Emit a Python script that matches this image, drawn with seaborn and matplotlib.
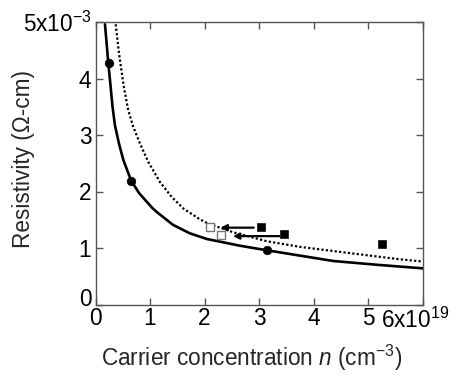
import matplotlib
matplotlib.use("Agg")
import matplotlib.pyplot as plt
import matplotlib.transforms as mtransforms
import seaborn as sns
import pandas as pd

# ---- data ----
fit_solid_n = [0.174, 0.235, 0.278, 0.31, 0.339, 0.357, 0.43, 0.51, 0.65, 0.80, 1.05, 1.12, 1.42,
               1.73, 2.04, 2.65, 3.14, 4.36, 5.20, 6.0]
fit_solid_rho = [4.96, 4.27, 3.85, 3.52, 3.30, 3.17, 2.85, 2.56, 2.20, 1.97, 1.70, 1.64, 1.41,
                 1.26, 1.16, 1.04, 0.96, 0.77, 0.70, 0.64]

fit_dot_n = [0.37, 0.43, 0.52, 0.60, 0.69, 0.815, 0.97, 1.18, 1.40, 1.61, 1.91, 2.07, 2.52,
             3.14, 3.75, 4.66, 5.58, 6.0]
fit_dot_rho = [4.96, 4.45, 3.85, 3.44, 3.15, 2.85, 2.52, 2.17, 1.90, 1.70, 1.51, 1.43, 1.28,
               1.12, 1.02, 0.91, 0.80, 0.76]

circ_n = [0.24, 0.65, 3.14]
circ_rho = [4.27, 2.19, 0.96]

filled_sq_n = [3.04, 3.46, 5.25]
filled_sq_rho = [1.38, 1.24, 1.07]

open_sq_n = [2.10, 2.31]
open_sq_rho = [1.37, 1.23]

arrow_tail_n = [2.90, 3.37]
arrow_head_n = [2.29, 2.52]
arrow_rho = [1.36, 1.21]

x_ticks = [0, 1, 2, 3, 4, 5, 6]
x_ticklabels = ["0", "1", "2", "3", "4", "5", "6x10$^{19}$"]
y_ticks = [0, 1, 2, 3, 4, 5]
y_ticklabels = ["0", "1", "2", "3", "4", "5x10$^{-3}$"]

# ---- style ----
sns.set_style("ticks")
plt.rcParams["font.family"] = ["Liberation Sans", "DejaVu Sans"]
plt.rcParams["mathtext.fontset"] = "custom"
plt.rcParams["mathtext.rm"] = "Liberation Sans"
plt.rcParams["mathtext.it"] = "Liberation Sans:italic"
plt.rcParams["mathtext.default"] = "regular"

FS = 16.3

fig = plt.figure(figsize=(4.61, 3.80), dpi=100)
ax = fig.add_axes([95.5 / 461, 1 - 304.5 / 380, 327.2 / 461, 282.5 / 380])

df_s = pd.DataFrame({"n": fit_solid_n, "rho": fit_solid_rho})
df_d = pd.DataFrame({"n": fit_dot_n, "rho": fit_dot_rho})
sns.lineplot(data=df_s, x="n", y="rho", ax=ax, color="black", lw=1.9, sort=True, zorder=2)
sns.lineplot(data=df_d, x="n", y="rho", ax=ax, color="black", lw=1.6, ls=(0, (1, 1)), sort=True, zorder=2)

sns.scatterplot(x=circ_n, y=circ_rho, ax=ax, marker="o", s=38, color="black", edgecolor="black", zorder=4)
sns.scatterplot(x=filled_sq_n, y=filled_sq_rho, ax=ax, marker="s", s=32, color="black", edgecolor="black", zorder=4)
sns.scatterplot(x=open_sq_n, y=open_sq_rho, ax=ax, marker="s", s=32, facecolor="white", edgecolor="#777777", linewidth=1.0, zorder=4)

for t, h, r in zip(arrow_tail_n, arrow_head_n, arrow_rho):
    ax.annotate("", xy=(h, r), xytext=(t, r),
                arrowprops=dict(arrowstyle="-|>", color="black", lw=1.6,
                                mutation_scale=9, shrinkA=0, shrinkB=0), zorder=3)

ax.set_xlim(0, 6)
ax.set_ylim(0, 5)
ax.set_xticks(x_ticks)
ax.set_xticklabels(x_ticklabels)
ax.set_yticks(y_ticks)
ax.set_yticklabels(y_ticklabels)

for s in ax.spines.values():
    s.set_color("#555555")
    s.set_linewidth(1.0)
ax.tick_params(direction="in", length=5, width=1.0, color="#555555",
               top=True, right=True, labelsize=FS, labelcolor="black")
ax.tick_params(axis="x", pad=2)
ax.tick_params(axis="y", pad=3)

# nudge labels like the reference
lab6 = ax.get_xticklabels()[-1]
lab6.set_transform(lab6.get_transform() + mtransforms.ScaledTranslation(-8 / 100, 0, fig.dpi_scale_trans))
laby0 = ax.get_yticklabels()[0]
laby0.set_transform(laby0.get_transform() + mtransforms.ScaledTranslation(0, 7 / 100, fig.dpi_scale_trans))

ax.set_xlabel("Carrier concentration $\\mathit{n}$ (cm$^{-3}$)", fontsize=FS)
ax.set_ylabel("Resistivity (\u03a9-cm)", fontsize=FS)
ax.xaxis.set_label_coords(0.478, -0.136)
ax.yaxis.set_label_coords(-0.185, 0.515)

fig.savefig("out.png", dpi=100)
